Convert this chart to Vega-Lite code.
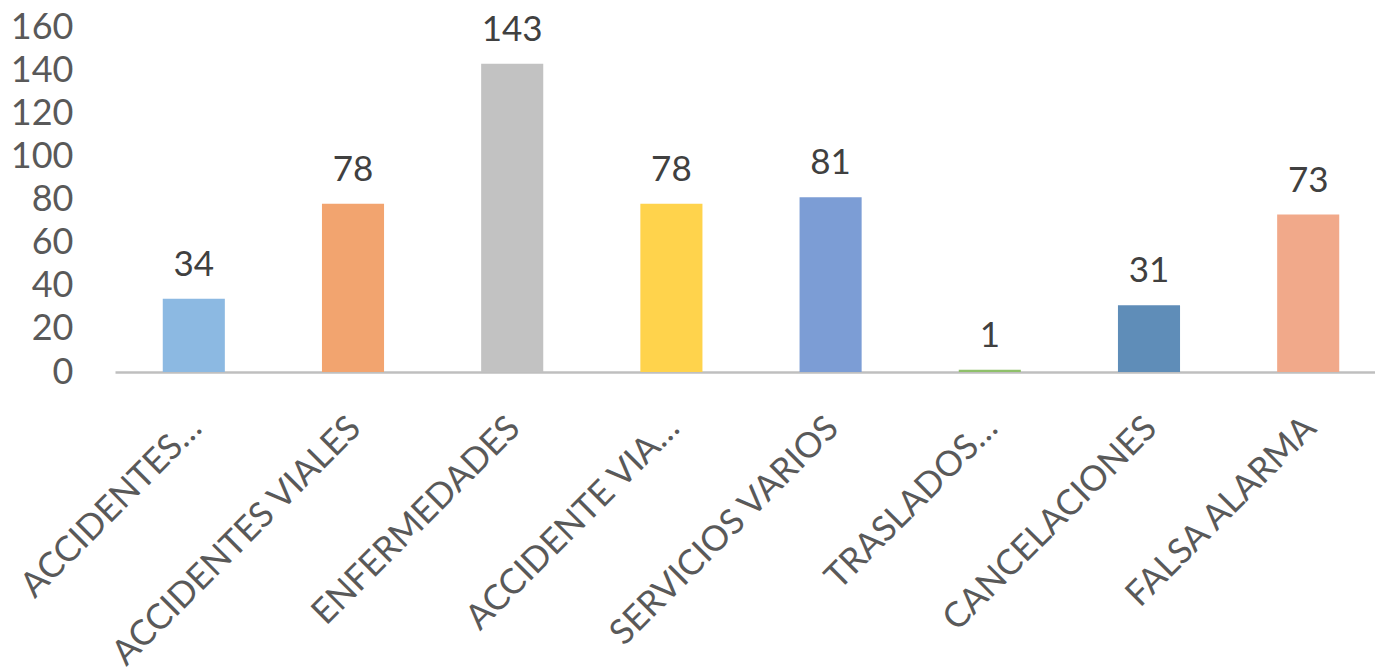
{
  "$schema": "https://vega.github.io/schema/vega-lite/v6.json",
  "width": 1272,
  "height": 345,
  "autosize": {"type": "none"},
  "padding": {"left": 115, "top": 27, "right": 0, "bottom": 300},
  "background": "white",
  "config": {"view": {"stroke": null}, "font": "Lato"},
  "data": {"values": [
    {"categoria": "ACCIDENTES…", "total": 34},
    {"categoria": "ACCIDENTES VIALES", "total": 78},
    {"categoria": "ENFERMEDADES", "total": 143},
    {"categoria": "ACCIDENTE VIA…", "total": 78},
    {"categoria": "SERVICIOS VARIOS", "total": 81},
    {"categoria": "TRASLADOS…", "total": 1},
    {"categoria": "CANCELACIONES", "total": 31},
    {"categoria": "FALSA ALARMA", "total": 73}
  ]},
  "encoding": {
    "x": {"field": "categoria", "type": "nominal", "sort": null,
      "scale": {"paddingInner": 0.61, "paddingOuter": 0.3},
      "axis": {"title": null, "labelAngle": -45, "labelFontSize": 35, "labelColor": "#595959",
        "labelFont": "Lato", "ticks": false, "labelPadding": 38, "labelOffset": -10, "domainColor": "#BFBFBF", "domainWidth": 2.5, "labelLimit": 1000, "labelOverlap": false}},
    "y": {"field": "total", "type": "quantitative",
      "scale": {"domain": [0, 160]},
      "axis": {"title": null, "values": [0,20,40,60,80,100,120,140,160], "grid": false, "domain": false, "ticks": false,
        "labelFontSize": 36, "labelColor": "#595959", "labelPadding": 42, "labelFont": "Lato", "labelOverlap": false}}
  },
  "layer": [
    {"mark": {"type": "bar"},
     "encoding": {"color": {"field": "categoria", "type": "nominal", "sort": null, "legend": null,
       "scale": {"domain": ["ACCIDENTES…", "ACCIDENTES VIALES", "ENFERMEDADES", "ACCIDENTE VIA…", "SERVICIOS VARIOS", "TRASLADOS…", "CANCELACIONES", "FALSA ALARMA"],
         "range": ["#8CB9E2", "#F2A46F", "#C2C2C2", "#FFD34C", "#7C9DD5", "#8FC06A", "#5F8DB8", "#F1A98A"]}}}},
    {"mark": {"type": "text", "baseline": "bottom", "dy": -16, "fontSize": 35, "color": "#404040", "font": "Lato"},
     "encoding": {"text": {"field": "total", "type": "quantitative"}}}
  ]
}
